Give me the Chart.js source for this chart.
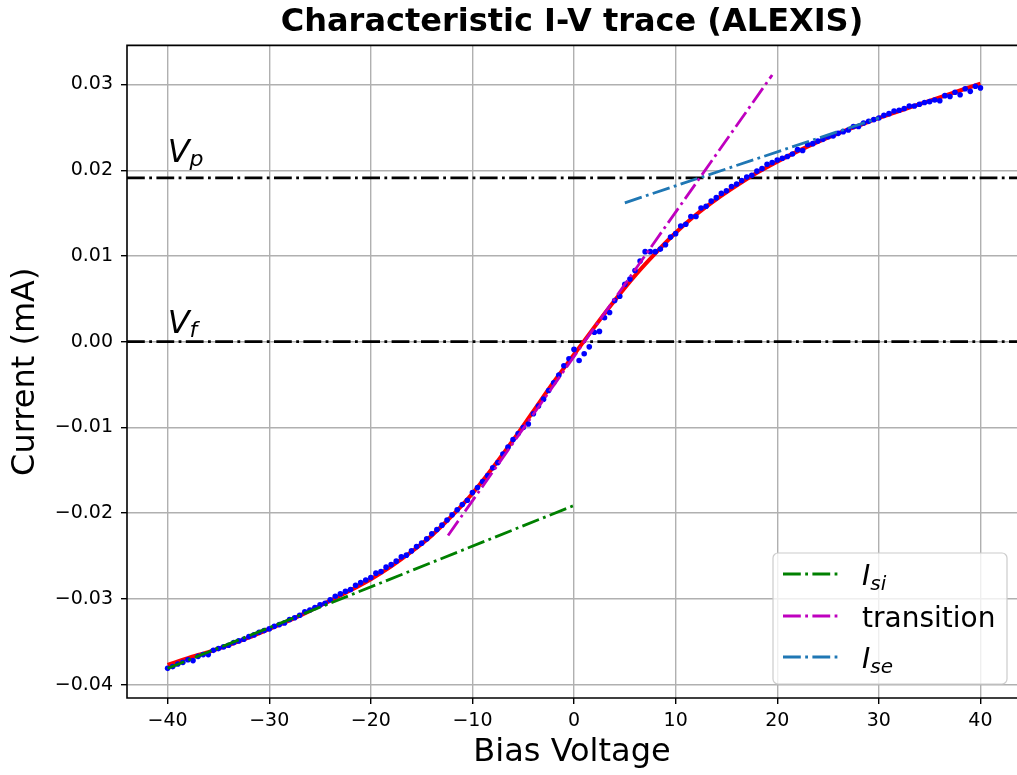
<!DOCTYPE html>
<html><head><meta charset="utf-8">
<script src="https://cdn.jsdelivr.net/npm/chart.js@4/dist/chart.umd.min.js"></script>
<style>html,body{margin:0;padding:0;overflow:hidden;background:#fff}canvas{display:block}</style>
</head><body>
<canvas id="c" width="1021" height="775"></canvas>
<script>
const biasVoltage = [
 -40,-39.5,-39,-38.5,-38,-37.5,-37,-36.5,-36,-35.5,-35,-34.5,-34,-33.5,-33,-32.5,-32,-31.5,-31,-30.5,
 -30,-29.5,-29,-28.5,-28,-27.5,-27,-26.5,-26,-25.5,-25,-24.5,-24,-23.5,-23,-22.5,-22,-21.5,-21,-20.5,
 -20,-19.5,-19,-18.5,-18,-17.5,-17,-16.5,-16,-15.5,-15,-14.5,-14,-13.5,-13,-12.5,-12,-11.5,-11,-10.5,
 -10,-9.5,-9,-8.5,-8,-7.5,-7,-6.5,-6,-5.5,-5,-4.5,-4,-3.5,-3,-2.5,-2,-1.5,-1,-0.5,
 0,0.5,1,1.5,2,2.5,3,3.5,4,4.5,5,5.5,6,6.5,7,7.5,8,8.5,9,9.5,
 10,10.5,11,11.5,12,12.5,13,13.5,14,14.5,15,15.5,16,16.5,17,17.5,18,18.5,19,19.5,
 20,20.5,21,21.5,22,22.5,23,23.5,24,24.5,25,25.5,26,26.5,27,27.5,28,28.5,29,29.5,
 30,30.5,31,31.5,32,32.5,33,33.5,34,34.5,35,35.5,36,36.5,37,37.5,38,38.5,39,39.5,
 40];
const measuredCurrent = [
 -0.0381,-0.0379,-0.0376,-0.0374,-0.0371,-0.0372,-0.0367,-0.0365,-0.0365,-0.0360,-0.0358,-0.0356,-0.0354,-0.0351,-0.0349,-0.0347,-0.0344,-0.0342,-0.0339,-0.0337,
 -0.0335,-0.0332,-0.0330,-0.0328,-0.0324,-0.0322,-0.0319,-0.0315,-0.0313,-0.0310,-0.0307,-0.0305,-0.0301,-0.0297,-0.0294,-0.0291,-0.0289,-0.0284,-0.0281,-0.0278,
 -0.0275,-0.0270,-0.0268,-0.0263,-0.0260,-0.0256,-0.0251,-0.0249,-0.0244,-0.0239,-0.0235,-0.0230,-0.0224,-0.0219,-0.0214,-0.0208,-0.0202,-0.0196,-0.0190,-0.0185,
 -0.0176,-0.0170,-0.0163,-0.0156,-0.0147,-0.0141,-0.0131,-0.0123,-0.0114,-0.0107,-0.0100,-0.0096,-0.0084,-0.0075,-0.0067,-0.0057,-0.0048,-0.0039,-0.0028,-0.0020,
 -0.0009,-0.0022,-0.0014,-0.0006,0.0011,0.0012,0.0028,0.0034,0.0048,0.0053,0.0067,0.0073,0.0083,0.0094,0.0105,0.0105,0.0105,0.0108,0.0113,0.0122,
 0.0126,0.0135,0.0137,0.0146,0.0146,0.0156,0.0158,0.0164,0.0168,0.0173,0.0176,0.0181,0.0184,0.0188,0.0192,0.0194,0.0199,0.0202,0.0207,0.0209,
 0.0212,0.0214,0.0216,0.0219,0.0224,0.0223,0.0230,0.0231,0.0234,0.0236,0.0239,0.0240,0.0243,0.0245,0.0247,0.0251,0.0251,0.0255,0.0257,0.0259,
 0.0261,0.0264,0.0266,0.0269,0.0270,0.0272,0.0275,0.0275,0.0277,0.0279,0.0280,0.0282,0.0281,0.0287,0.0286,0.0291,0.0288,0.0295,0.0292,0.0298,
 0.0296];
const fitVoltage = [-40,-38,-36,-34,-32,-30,-28,-26,-24,-22,-20,-18,-16,-14,-12,-10,-8,-6,-4,-2,0,2,4,6,8,10,12,14,16,18,20,22,24,26,28,30,32,34,36,38,40];
const fitCurrent = [-0.0377,-0.0369,-0.0362,-0.0354,-0.0345,-0.0335,-0.0325,-0.0314,-0.0302,-0.0290,-0.0277,-0.0262,-0.0245,-0.0226,-0.0203,-0.0177,-0.0147,-0.0115,-0.0081,-0.0047,-0.0015,0.0017,0.0048,0.0077,0.0103,0.0127,0.0148,0.0166,0.0182,0.0197,0.0210,0.0222,0.0233,0.0243,0.0252,0.0261,0.0269,0.0277,0.0285,0.0293,0.0301];
const isiVoltage = [-40, 0];
const isiCurrent = [-0.0381, -0.0191];
const transitionVoltage = [-12.4, 19.5];
const transitionCurrent = [-0.0226, 0.0311];
const iseVoltage = [5, 30];
const iseCurrent = [0.0162, 0.0261];
const plasmaPotentialLevel = 0.0191;
const floatingPotentialLevel = 0.0;
const vpLabelAt = [-40, 0.021];
const vfLabelAt = [-40, 0.001];
const xTicks = [-40,-30,-20,-10,0,10,20,30,40];
const yTicks = [-0.04,-0.03,-0.02,-0.01,0,0.01,0.02,0.03];
const xLimits = [-44, 43.6];
const yLimits = [-0.04156, 0.03456];
const legendEntries = [
  {main:'I', sub:'si', italic:true, color:'#008000'},
  {main:'transition', sub:'', italic:false, color:'#bf00bf'},
  {main:'I', sub:'se', italic:true, color:'#1f77b4'}
];

const FAM = "'DejaVu Sans'";
const DASH = [17.8, 4.4, 2.8, 4.4];
const pts = (xs, ys) => xs.map((x, i) => ({x: x, y: ys[i]}));
const minus = s => s.replace('-', '\u2212');

function lineDs(label, data, color, order, width) {
  return {label, data, showLine: true, borderColor: color, backgroundColor: color,
    borderWidth: width || 2.8, borderDash: DASH, pointRadius: 0, order, tension: 0};
}

function drawSub(ctx, x, y, main, sub, size, subSize, shift, italic) {
  ctx.save();
  ctx.fillStyle = '#000';
  ctx.textBaseline = 'alphabetic';
  ctx.textAlign = 'left';
  ctx.font = (italic ? 'italic ' : '') + size + 'px ' + FAM;
  ctx.fillText(main, x, y);
  const w = ctx.measureText(main).width;
  if (sub) {
    ctx.font = 'italic ' + subSize + 'px ' + FAM;
    ctx.fillText(sub, x + w, y + shift);
  }
  ctx.restore();
}

const spines = {
  id: 'spines',
  afterDatasetsDraw(chart) {
    const {ctx, chartArea: a} = chart;
    ctx.save();
    ctx.strokeStyle = '#000';
    ctx.lineWidth = 1.6;
    ctx.beginPath();
    ctx.moveTo(a.right + 4, a.top);
    ctx.lineTo(a.left, a.top);
    ctx.lineTo(a.left, a.bottom);
    ctx.lineTo(a.right + 4, a.bottom);
    ctx.stroke();
    ctx.restore();
    const xs = chart.scales.x, ys = chart.scales.y;
    drawSub(ctx, xs.getPixelForValue(vpLabelAt[0]), ys.getPixelForValue(vpLabelAt[1]), 'V', 'p', 32, 22, 4, true);
    drawSub(ctx, xs.getPixelForValue(vfLabelAt[0]), ys.getPixelForValue(vfLabelAt[1]), 'V', 'f', 32, 22, 4, true);
  }
};

const customLegend = {
  id: 'customLegend',
  afterDraw(chart) {
    const {ctx, chartArea: a} = chart;
    const w = 234, h = 131, r = 5;
    const right = a.right - 10, bottom = a.bottom - 14;
    const left = right - w, top = bottom - h;
    ctx.save();
    ctx.beginPath();
    ctx.moveTo(left + r, top);
    ctx.lineTo(right - r, top); ctx.arcTo(right, top, right, top + r, r);
    ctx.lineTo(right, bottom - r); ctx.arcTo(right, bottom, right - r, bottom, r);
    ctx.lineTo(left + r, bottom); ctx.arcTo(left, bottom, left, bottom - r, r);
    ctx.lineTo(left, top + r); ctx.arcTo(left, top, left + r, top, r);
    ctx.closePath();
    ctx.fillStyle = 'rgba(255,255,255,0.8)';
    ctx.fill();
    ctx.strokeStyle = '#cccccc';
    ctx.lineWidth = 1.2;
    ctx.stroke();
    const rows = [21, 63, 104];
    legendEntries.forEach((e, i) => {
      const cy = top + rows[i];
      ctx.save();
      ctx.strokeStyle = e.color;
      ctx.lineWidth = 2.8;
      ctx.setLineDash(DASH);
      ctx.beginPath();
      ctx.moveTo(left + 10, cy);
      ctx.lineTo(left + 66, cy);
      ctx.stroke();
      ctx.restore();
      drawSub(ctx, left + 89, cy + 11, e.main, e.sub, 28, 20, 5, e.italic);
    });
    ctx.restore();
  }
};

Chart.defaults.font.family = FAM;
Chart.defaults.color = '#000';

new Chart(document.getElementById('c'), {
  type: 'scatter',
  data: {
    datasets: [
      lineDs('I_si', pts(isiVoltage, isiCurrent), '#008000', 0),
      lineDs('transition', pts(transitionVoltage, transitionCurrent), '#bf00bf', 1),
      lineDs('I_se', pts(iseVoltage, iseCurrent), '#1f77b4', 2),
      {label: 'data', data: pts(biasVoltage, measuredCurrent), showLine: false,
        pointRadius: 2.8, pointBackgroundColor: '#0000ff', pointBorderWidth: 0, borderColor: '#0000ff', order: 3},
      {label: 'fit', data: pts(fitVoltage, fitCurrent), showLine: true, borderColor: '#ff0000',
        borderWidth: 4, pointRadius: 0, cubicInterpolationMode: 'monotone', order: 4},
      lineDs('Vp', pts(xLimits, [plasmaPotentialLevel, plasmaPotentialLevel]), '#000000', 5),
      lineDs('Vf', pts(xLimits, [floatingPotentialLevel, floatingPotentialLevel]), '#000000', 6)
    ]
  },
  options: {
    responsive: false,
    devicePixelRatio: 1,
    animation: false,
    events: [],
    layout: {padding: {left: 0, right: 0, top: 0, bottom: 0}},
    plugins: {
      legend: {display: false},
      tooltip: {enabled: false},
      title: {display: true, text: 'Characteristic I-V trace (ALEXIS)', fullSize: false,
        font: {size: 32, weight: 'bold', family: FAM}, color: '#000', padding: {top: 3, bottom: 4}}
    },
    scales: {
      x: {
        type: 'linear', position: 'bottom', min: xLimits[0], max: xLimits[1],
        afterBuildTicks: s => { s.ticks = xTicks.map(v => ({value: v})); },
        afterFit: s => { s.height = 77; },
        grid: {color: '#b0b0b0', lineWidth: 1.4, tickLength: 6, tickColor: '#000', tickWidth: 1.4},
        border: {display: false},
        ticks: {font: {size: 19}, color: '#000', padding: 6, maxRotation: 0,
          callback: v => minus(String(v))},
        title: {display: true, text: 'Bias Voltage', font: {size: 32}, color: '#000', padding: {top: 0, bottom: 3}}
      },
      y: {
        type: 'linear', position: 'left', min: yLimits[0], max: yLimits[1],
        afterBuildTicks: s => { s.ticks = yTicks.map(v => ({value: v})); },
        afterFit: s => { s.width = 127; },
        grid: {color: '#b0b0b0', lineWidth: 1.4, tickLength: 6, tickColor: '#000', tickWidth: 1.4},
        border: {display: false},
        ticks: {font: {size: 19}, color: '#000', padding: 8,
          callback: v => minus(Number(v).toFixed(2))},
        title: {display: true, text: 'Current (mA)', font: {size: 32}, color: '#000', padding: {top: 6, bottom: 0}}
      }
    }
  },
  plugins: [spines, customLegend]
});
</script>
</body></html>
